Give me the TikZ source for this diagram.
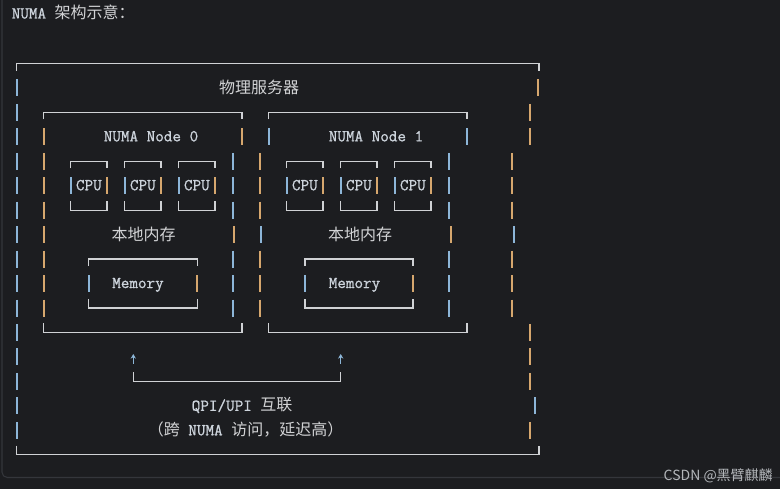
\documentclass[tikz,border=0pt]{standalone}
\usepackage{fontspec}
\newfontfamily\cjkfont{Noto Sans CJK SC}
\newfontfamily\asciimono[FakeBold=0.9]{Latin Modern Mono}
\usetikzlibrary{arrows.meta}
\definecolor{BlockBg}{HTML}{1C1D20}
\definecolor{BlockEdge}{HTML}{34363B}
\definecolor{AsciiLine}{HTML}{D0D2D5}
\definecolor{AsciiBlue}{HTML}{8DB6D8}
\definecolor{AsciiAmber}{HTML}{D6A76E}
\definecolor{AsciiText}{HTML}{CDD4DC}
\definecolor{AsciiHan}{HTML}{D2D3D5}
\definecolor{MarkGray}{HTML}{B3B6BA}
\newcommand\zh[1]{{\cjkfont\fontsize{12}{15}\selectfont\color{AsciiHan}#1}}

\begin{document}
\begin{tikzpicture}[x=0.75pt,y=-0.75pt,>=Stealth,
  declare function={rowy(\r)=63.5+24.45*\r;},
  hline/.style={AsciiLine,line width=1pt},
  bar/.style={line width=1.5pt},
  mono/.style={font=\asciimono\fontsize{12.5}{15}\selectfont,text=AsciiText,inner sep=0pt,anchor=base},
  han/.style={font=\cjkfont\fontsize{12}{15}\selectfont,text=AsciiHan,inner sep=0pt,anchor=base}]
  \useasboundingbox (0,0) rectangle (780,489);
  \fill[BlockBg] (0,0) rectangle (780,489);
  \draw[BlockEdge,line width=0.8pt,rounded corners=4] (2,-5) -- (2,477.5) -- (790,477.5);

  \node[mono,anchor=base west] (title) at (11.5,18.5) {NUMA \zh{架构示意：}};

  % box tops and bottoms
  \foreach \a/\b/\r in {16.7/539/0,43.7/242/2,268.7/467/2,88.7/197.3/8,305/413/8}
    \draw[hline] (\a,{rowy(\r)+7}) |- (\b,{rowy(\r)}) -- ++(0,7);
  \foreach \a/\b/\r in {16.7/539/16,43.7/242/11,268.7/467/11,88.7/197.3/10,305/413/10}
    \draw[hline] (\a,{rowy(\r)-9}) |- (\b,{rowy(\r)}) -- ++(0,-9);

  % side bars, one per text line
  \foreach \x/\c in {16.7/AsciiBlue,43.7/AsciiAmber,232.7/AsciiBlue,259.7/AsciiAmber,449/AsciiBlue,512/AsciiAmber}
    \foreach \r in {4,5,6,8,9,10}
      \draw[bar,\c] (\x,{rowy(\r)-8.5}) -- ++(0,17);
  \foreach \x/\r/\c in {16.7/1/AsciiBlue,16.7/2/AsciiBlue,16.7/3/AsciiBlue,16.7/7/AsciiBlue,
      16.7/11/AsciiBlue,16.7/12/AsciiBlue,16.7/13/AsciiBlue,16.7/14/AsciiBlue,16.7/15/AsciiBlue,
      537.7/1/AsciiAmber,530/2/AsciiAmber,530/3/AsciiAmber,
      43.7/3/AsciiAmber,242/3/AsciiAmber,268.7/3/AsciiBlue,467/3/AsciiBlue,
      43.7/7/AsciiAmber,233.7/7/AsciiAmber,260.7/7/AsciiBlue,450.7/7/AsciiAmber,513.7/7/AsciiBlue,
      530/11/AsciiAmber,530/12/AsciiAmber,530/13/AsciiAmber,534.7/14/AsciiBlue,530/15/AsciiAmber,
      88.7/9/AsciiBlue,197.3/9/AsciiAmber,305/9/AsciiBlue,413/9/AsciiAmber}
    \draw[bar,\c] (\x,{rowy(\r)-8.5}) -- ++(0,17);

  % cpu boxes
  \foreach \x [count=\i] in {70.7,124.7,178.7,286.7,340.7,394.7}{
    \draw[hline] (\x,{rowy(4)+7}) |- (\x+36.3,{rowy(4)}) -- ++(0,7);
    \draw[hline] (\x,{rowy(6)-9}) |- (\x+36.3,{rowy(6)}) -- ++(0,-9);
    \draw[bar,AsciiBlue] (\x,{rowy(5)-8.5}) -- ++(0,17);
    \draw[bar,AsciiAmber] (\x+36.3,{rowy(5)-8.5}) -- ++(0,17);
    \node[mono] (cpu\i) at (\x+18.15,{rowy(5)+4.5}) {CPU};
  }

  \node[han] (server) at (259,{rowy(1)+6}) {物理服务器};
  \node[mono] (numa0) at (151,{rowy(3)+4.5}) {NUMA Node 0};
  \node[mono] (numa1) at (376,{rowy(3)+4.5}) {NUMA Node 1};
  \node[han] (local0) at (143.5,{rowy(7)+6}) {本地内存};
  \node[han] (local1) at (360,{rowy(7)+6}) {本地内存};
  \node[mono] (mem0) at (138,{rowy(9)+4.5}) {Memory};
  \node[mono] (mem1) at (354.5,{rowy(9)+4.5}) {Memory};

  % interconnect
  \coordinate (arrL) at (133.3,363.5);
  \coordinate (tipL) at (133.3,354);
  \coordinate (arrR) at (340.7,363.5);
  \coordinate (tipR) at (340.7,354);
  \coordinate (linkL) at (133.3,{rowy(13)});
  \coordinate (linkR) at (340.7,{rowy(13)});
  \draw[AsciiBlue,line width=1pt,arrows={-Stealth[length=3.5pt,width=4pt]}] (arrL) -- (tipL);
  \draw[AsciiBlue,line width=1pt,arrows={-Stealth[length=3.5pt,width=4pt]}] (arrR) -- (tipR);
  \draw[hline] ([yshift=6.75pt]linkL) -- (linkL) -- (linkR) -- ([yshift=6.75pt]linkR);
  \node[mono,anchor=base west] (qpi) at (191.5,{rowy(14)+5}) {QPI/UPI \zh{互联}};
  \node[mono] (cost) at (245.5,{rowy(15)+5}) {\zh{（跨} NUMA \zh{访问，延迟高）}};

  \node[font=\cjkfont\fontsize{10.5}{12}\selectfont,text=MarkGray,inner sep=0pt,anchor=base east] (mark) at (773,480) {CSDN @黑臂麒麟};
\end{tikzpicture}
\end{document}
